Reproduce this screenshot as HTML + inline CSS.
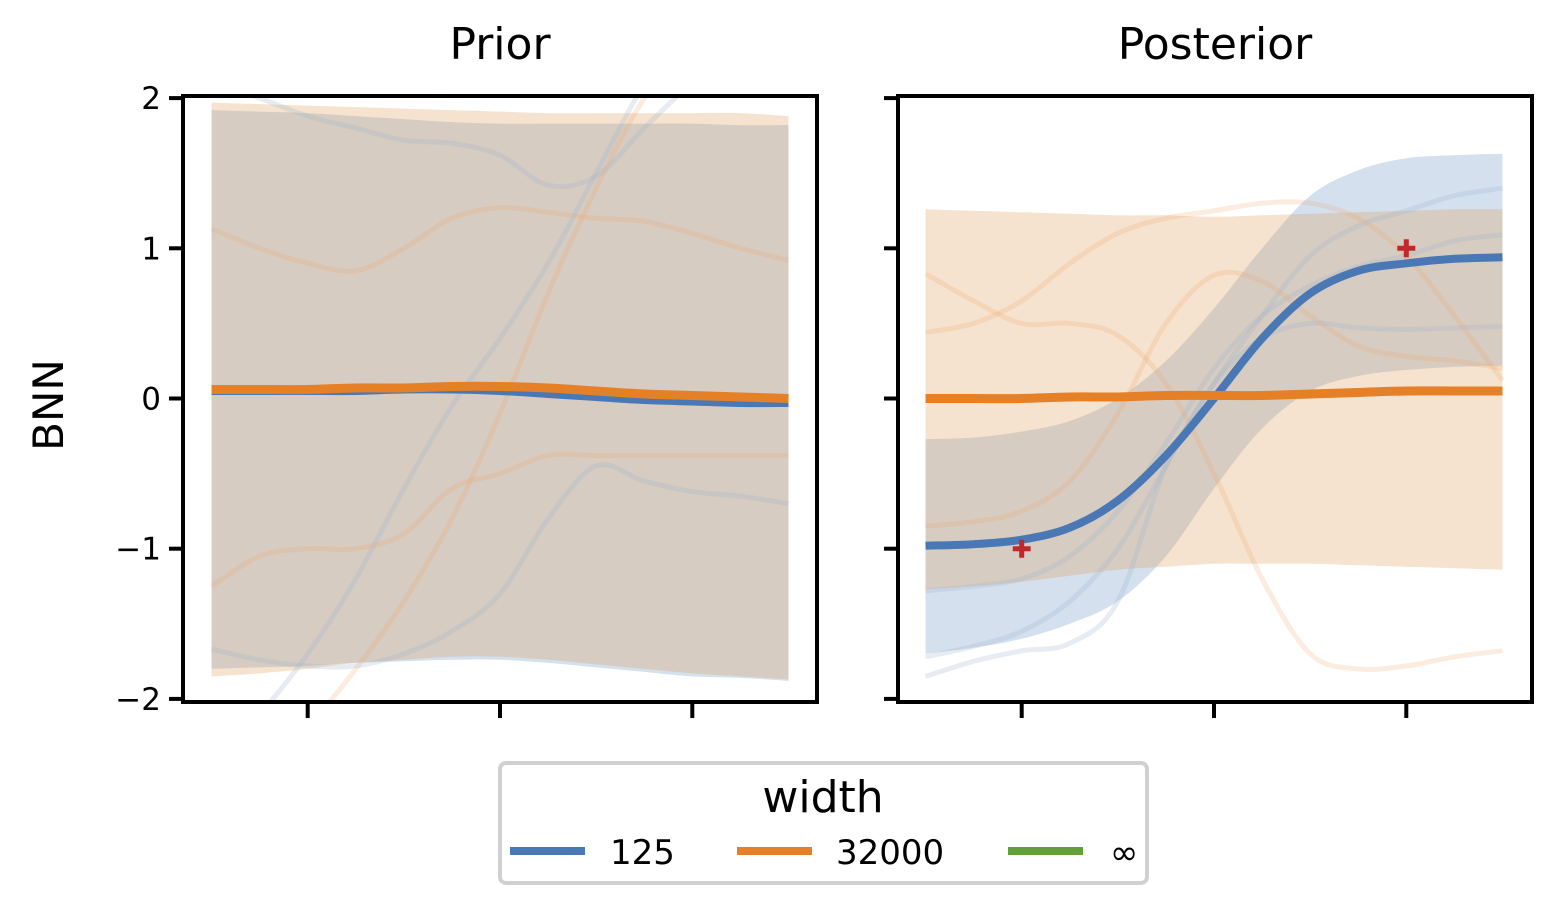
<!DOCTYPE html>
<html><head><meta charset="utf-8">
<style>
html,body{margin:0;padding:0;background:#fff;}
svg{display:block;font-family:"DejaVu Sans","Liberation Sans",sans-serif;}
</style></head>
<body>
<svg id="chart" width="1564" height="906" viewBox="0 0 1564 906" xmlns="http://www.w3.org/2000/svg"></svg>
<script>
const xs = [-1.5,-1.25,-1,-0.75,-0.5,-0.25,0,0.25,0.5,0.75,1,1.25,1.5];
const yTicks = [-2,-1,0,1,2];
const yTickLabels = ["\u22122","\u22121","0","1","2"];
const xTicks = [-1,0,1];
// Prior
const priorBlueMean = [0.05,0.05,0.05,0.05,0.06,0.06,0.05,0.03,0.01,-0.01,-0.02,-0.03,-0.03];
const priorOrangeMean = [0.06,0.06,0.06,0.07,0.07,0.08,0.08,0.07,0.05,0.03,0.02,0.01,0.0];
const priorOrangeUpper = [1.97,1.96,1.95,1.94,1.93,1.92,1.91,1.9,1.9,1.9,1.9,1.9,1.88];
const priorOrangeLower = [-1.85,-1.83,-1.8,-1.76,-1.74,-1.72,-1.72,-1.74,-1.77,-1.8,-1.83,-1.85,-1.87];
const priorBlueUpper = [1.92,1.91,1.9,1.88,1.86,1.84,1.83,1.83,1.83,1.83,1.83,1.82,1.82];
const priorBlueLower = [-1.8,-1.79,-1.78,-1.76,-1.75,-1.74,-1.74,-1.76,-1.79,-1.82,-1.85,-1.86,-1.88];
const priorBlueSamples = [
 [-1.67,-1.74,-1.78,-1.78,-1.7,-1.55,-1.3,-0.8,-0.45,-0.55,-0.62,-0.65,-0.7],
 [-2.4,-2.1,-1.7,-1.2,-0.6,-0.05,0.4,0.9,1.5,2.1,2.6,2.9,3.1],
 [2.1,2.0,1.88,1.8,1.72,1.7,1.62,1.42,1.48,1.8,2.1,2.3,2.5]
];
const priorOrangeSamples = [
 [1.13,1.0,0.9,0.85,1.0,1.2,1.27,1.24,1.2,1.18,1.1,1.0,0.92],
 [-1.25,-1.05,-1.0,-1.0,-0.9,-0.6,-0.5,-0.38,-0.38,-0.38,-0.38,-0.38,-0.38],
 [-3.0,-2.6,-2.2,-1.8,-1.35,-0.8,-0.1,0.7,1.4,2.0,2.4,2.8,3.0]
];
// Posterior
const postBlueMean = [-0.98,-0.97,-0.94,-0.86,-0.68,-0.38,0.0,0.4,0.7,0.85,0.9,0.93,0.94];
const postOrangeMean = [0.0,0.0,0.0,0.01,0.01,0.02,0.02,0.02,0.03,0.04,0.05,0.05,0.05];
const postBlueUpper = [-0.27,-0.26,-0.22,-0.15,0.0,0.25,0.6,1.0,1.35,1.52,1.6,1.62,1.63];
const postBlueLower = [-1.7,-1.66,-1.6,-1.5,-1.35,-1.05,-0.6,-0.2,0.05,0.15,0.19,0.21,0.22];
const postOrangeUpper = [1.26,1.25,1.24,1.23,1.22,1.22,1.21,1.22,1.23,1.24,1.25,1.26,1.26];
const postOrangeLower = [-1.27,-1.25,-1.22,-1.18,-1.14,-1.12,-1.1,-1.1,-1.1,-1.11,-1.12,-1.13,-1.14];
const postBlueSamples = [
 [-1.28,-1.25,-1.2,-1.05,-0.75,-0.3,0.2,0.55,0.75,0.88,0.95,1.05,1.09],
 [-1.72,-1.65,-1.55,-1.35,-1.0,-0.45,0.1,0.4,0.5,0.47,0.46,0.47,0.48],
 [-1.85,-1.75,-1.68,-1.63,-1.35,-0.45,0.1,0.55,0.95,1.15,1.25,1.35,1.4]
];
const postOrangeSamples = [
 [0.83,0.65,0.5,0.5,0.42,0.1,-0.5,-1.2,-1.7,-1.8,-1.78,-1.72,-1.68],
 [0.44,0.5,0.65,0.9,1.1,1.2,1.25,1.3,1.3,1.2,0.95,0.55,0.12],
 [-0.85,-0.82,-0.75,-0.55,-0.1,0.5,0.82,0.78,0.55,0.35,0.28,0.25,0.2]
];
const markerX = [-1,1];
const markerY = [-1,1];

const NS='http://www.w3.org/2000/svg';
const svg=document.getElementById('chart');
function el(tag,attrs,parent){const e=document.createElementNS(NS,tag);for(const k in attrs)e.setAttribute(k,attrs[k]);(parent||svg).appendChild(e);return e;}
const yScale=v=>398.5-v*150.2;
function makeX(zero){return v=>zero+v*192.3;}
function pts(sx,ys){return xs.map((x,i)=>[sx(x),yScale(ys[i])]);}
function smooth(p){let d='M'+p[0][0].toFixed(1)+','+p[0][1].toFixed(1);
 for(let i=0;i<p.length-1;i++){const p0=p[i-1]||p[i],p1=p[i],p2=p[i+1],p3=p[i+2]||p2;
  const c1=[p1[0]+(p2[0]-p0[0])/6,p1[1]+(p2[1]-p0[1])/6],c2=[p2[0]-(p3[0]-p1[0])/6,p2[1]-(p3[1]-p1[1])/6];
  d+=' C'+c1[0].toFixed(1)+','+c1[1].toFixed(1)+' '+c2[0].toFixed(1)+','+c2[1].toFixed(1)+' '+p2[0].toFixed(1)+','+p2[1].toFixed(1);}
 return d;}
function band(sx,up,lo){const a=pts(sx,up),b=pts(sx,lo).reverse();
 let d=smooth(a);const db=smooth(b);d+=' L'+db.slice(1)+' Z';return d;}

function panel(name,left,zero,title,P){
 const sx=makeX(zero);
 const g=el('g',{},svg);
 
 
 const cid=name+'clip';
 const cp=el('clipPath',{id:cid},g);el('rect',{x:left,y:96,width:634,height:606},cp);
 const plot=el('g',{'clip-path':'url(#'+cid+')'},g);
 const bb=el('path',{d:band(sx,P.bu,P.bl),fill:'#d4e0ee'},plot);
 
 
 const ob=el('path',{d:band(sx,P.ou,P.ol),fill:'rgb(223,155,84)','fill-opacity':0.28},plot);
 
 
 P.os.forEach((s,i)=>{const l=el('path',{d:smooth(pts(sx,s)),fill:'none',stroke:'#f0a060','stroke-opacity':0.2,'stroke-width':5},plot);
  
  });
 P.bs.forEach((s,i)=>{const l=el('path',{d:smooth(pts(sx,s)),fill:'none',stroke:'#9ab4cc','stroke-opacity':0.25,'stroke-width':5},plot);
  
  });
 const bm=el('path',{d:smooth(pts(sx,P.bm)),fill:'none',stroke:'#4a78b4','stroke-width':8},plot);
 
 
 const om=el('path',{d:smooth(pts(sx,P.om)),fill:'none',stroke:'#e58027','stroke-width':9},plot);
 
 
 if(P.markers){markerX.forEach((mx,i)=>{const cx=sx(mx),cy=yScale(markerY[i]);
  const m=el('path',{d:`M${cx-9},${cy} H${cx+9} M${cx},${cy-9} V${cy+9}`,stroke:'#c0282d','stroke-width':5},plot);
  
  });}
 const fr=el('rect',{x:left,y:96,width:634,height:606,fill:'none',stroke:'#000','stroke-width':4},g);
 
 
 yTicks.forEach((t,i)=>{const y=yScale(t);el('line',{x1:left-14,x2:left,y1:y,y2:y,stroke:'#000','stroke-width':4},g);
  if(P.labels){const tx=el('text',{x:left-22,y:y+11,'text-anchor':'end','font-size':31},g);tx.textContent=yTickLabels[i];
   
   }});
 xTicks.forEach(t=>{const x=sx(t);el('line',{x1:x,x2:x,y1:702,y2:718,stroke:'#000','stroke-width':4},g);});
 const tt=el('text',{x:left+317,y:59,'text-anchor':'middle','font-size':44},g);tt.textContent=title;
 
 
}
panel('prior',183,500,'Prior',{bm:priorBlueMean,om:priorOrangeMean,ou:priorOrangeUpper,ol:priorOrangeLower,bu:priorBlueUpper,bl:priorBlueLower,bs:priorBlueSamples,os:priorOrangeSamples,labels:true});
panel('posterior',898,1214,'Posterior',{bm:postBlueMean,om:postOrangeMean,ou:postOrangeUpper,ol:postOrangeLower,bu:postBlueUpper,bl:postBlueLower,bs:postBlueSamples,os:postOrangeSamples,markers:true});
const yl=el('text',{x:63,y:405,'text-anchor':'middle','font-size':42,transform:'rotate(-90 63 405)'});yl.textContent='BNN';


// legend
const lg=el('g',{});


el('rect',{x:500,y:763,width:647,height:120,rx:6,fill:'#fff',stroke:'#d0d0d0','stroke-width':4},lg);
const lt=el('text',{x:823,y:812,'text-anchor':'middle','font-size':44},lg);lt.textContent='width';


const entries=[['125','#4a78b4',510,610],['32000','#e58027',737,836],['\u221e','#62a03a',1008,1110]];
entries.forEach(e=>{el('line',{x1:e[2],x2:e[2]+75,y1:851,y2:851,stroke:e[1],'stroke-width':8},lg);
 const t=el('text',{x:e[3],y:864,'font-size':34},lg);t.textContent=e[0];
 
 });
</script>
</body></html>
